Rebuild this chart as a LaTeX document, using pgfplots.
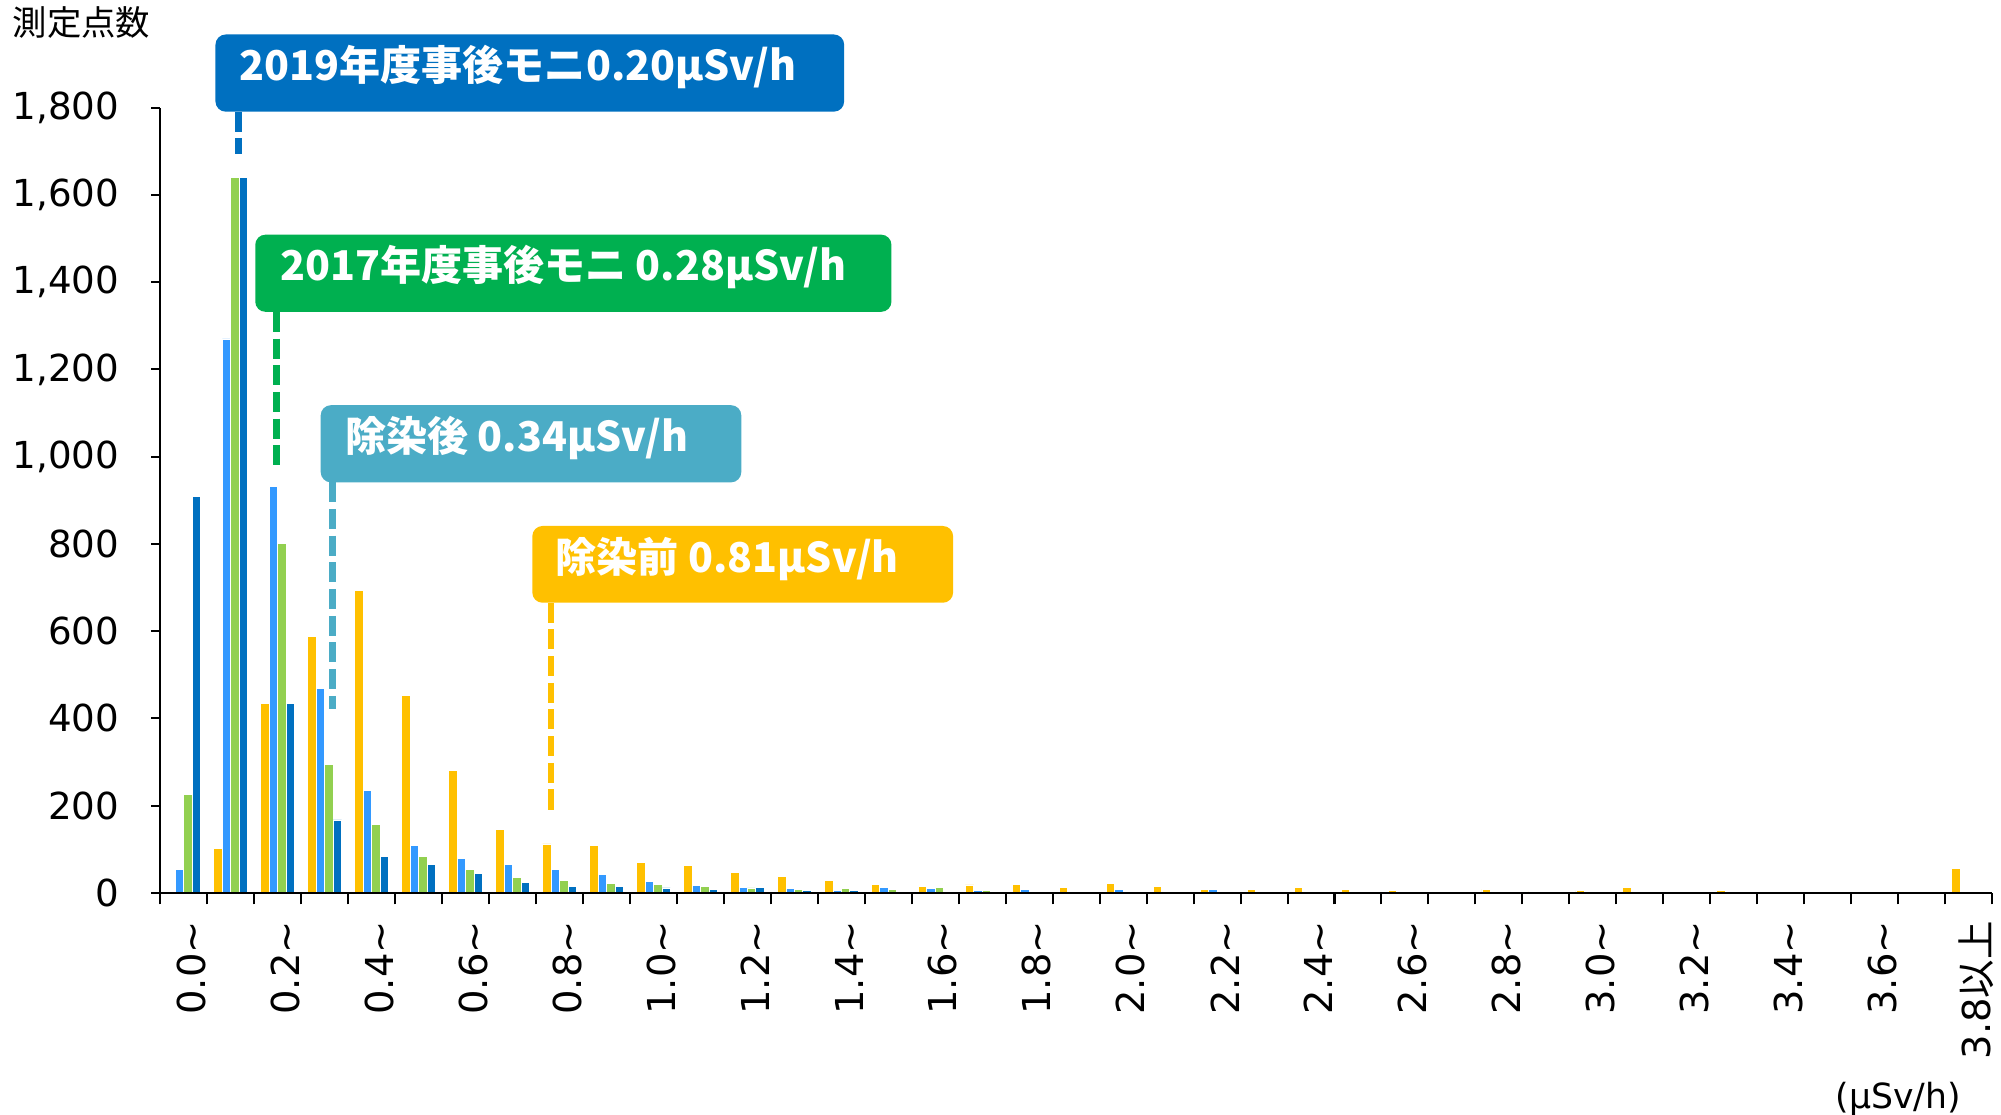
\documentclass[border=0pt]{standalone}
\usepackage{fontspec}
\setmainfont{DejaVu Sans}
\newfontfamily\jp{Noto Sans CJK JP}
\usepackage{pgfplots}
\pgfplotsset{compat=1.18}
\usepackage{pgfplotstable}

\definecolor{cPre}{HTML}{FFC000}
\definecolor{cPost}{HTML}{3399FF}
\definecolor{cSeven}{HTML}{92D050}
\definecolor{cNine}{HTML}{0070C0}
\definecolor{bSeven}{HTML}{00B050}
\definecolor{bPost}{HTML}{4BACC6}

% bins of 0.1 uSv/h: index 0 = 0.0~, ..., 37 = 3.7~, 38 = 3.8 and above
\pgfplotstableread{
x pre post m17 m19
0 0 54 226 908
1 102 1270 1641 1641
2 435 932 800 434
3 587 468 294 167
4 694 235 156 84
5 453 108 84 65
6 280 78 54 45
7 146 65 35 23
8 112 53 28 15
9 108 43 21 15
10 70 26 19 11
11 62 17 15 7
12 47 12 11 12
13 37 9 8 6
14 29 6 10 6
15 20 12 8 4
16 15 10 13 4
17 18 6 6 1.5
18 20 8 4 0
19 13 0 3 0
20 21 7 0 0
21 15 0 0 1.5
22 8 8 3 0
23 8 4 0 4
24 13 4 0 0
25 8 0 0 0
26 6 0 0 0
27 2 3 0 0
28 8 0 0 0
29 3 0 0 0
30 5 0 0 0
31 12 3 0 0
32 3 0 0 0
33 6 0 0 0
34 3 2 0 0
35 3 0 0 0
36 3 0 0 0
37 3 0 0 0
38 56 0 0 0
}\data

\newcommand{\xl}[1]{#1\textasciitilde}
\newcommand{\boxfont}{\jp\bfseries\fontsize{16}{19}\selectfont}

\begin{document}
\begin{tikzpicture}
\useasboundingbox (-62.5pt,-86.25pt) rectangle (717.5pt,348pt);
\begin{axis}[
    scale only axis,
    width=714pt, height=306pt,
    xmin=-0.5, xmax=38.5,
    ymin=0, ymax=1800,
    clip=false,
    axis on top,
    ybar=0pt, bar width=0.18,
    axis x line=bottom, axis y line=left,
    axis line style={-, black, line width=0.8pt},
    ytick={0,200,...,1800},
    xtick={0,2,...,38},
    xticklabels={\xl{0.0},\xl{0.2},\xl{0.4},\xl{0.6},\xl{0.8},\xl{1.0},\xl{1.2},
        \xl{1.4},\xl{1.6},\xl{1.8},\xl{2.0},\xl{2.2},\xl{2.4},\xl{2.6},\xl{2.8},
        \xl{3.0},\xl{3.2},\xl{3.4},\xl{3.6},{3.8{\jp 以上}}},
    minor xtick={-0.5,0.5,...,38.5},
    tick align=outside,
    major tick length=3.5pt, minor tick length=4.5pt,
    tick style={black, line width=0.8pt},
    major x tick style={draw=none},
    xticklabel style={rotate=90, anchor=east, xshift=-4pt, yshift=-3pt, font=\fontsize{15}{18}\selectfont},
    yticklabel style={xshift=-9pt, font=\fontsize{14.5}{17}\selectfont},
    /pgf/number format/.cd, 1000 sep={,}, assume math mode=true,
]
\addplot[fill=cPre, draw=white, line width=0.3pt] table[x=x, y=pre]{\data};
\addplot[fill=cPost, draw=white, line width=0.3pt] table[x=x, y=post]{\data};
\addplot[fill=cSeven, draw=white, line width=0.3pt] table[x=x, y=m17]{\data};
\addplot[fill=cNine, draw=white, line width=0.3pt] table[x=x, y=m19]{\data};

% average value callouts
\draw[cNine, line width=2.6pt, dash pattern=on 7.8pt off 2.6pt] (axis cs:1.17,1791) -- (axis cs:1.17,1695);
\fill[cNine, rounded corners=4pt] (axis cs:0.674,1791) rectangle (axis cs:14.06,1968);
\node[anchor=base west, inner sep=0, text=white, font=\boxfont] at (axis cs:1.18,1862) {2019年度事後モニ0.20μSv/h};

\draw[bSeven, line width=2.6pt, dash pattern=on 7.8pt off 2.6pt] (axis cs:1.98,1332) -- (axis cs:1.98,965);
\fill[bSeven, rounded corners=4pt] (axis cs:1.521,1332) rectangle (axis cs:15.067,1509);
\node[anchor=base west, inner sep=0, text=white, font=\boxfont] at (axis cs:2.04,1403) {2017年度事後モニ 0.28μSv/h};

\draw[bPost, line width=2.6pt, dash pattern=on 7.8pt off 2.6pt] (axis cs:3.165,941) -- (axis cs:3.165,422);
\fill[bPost, rounded corners=4pt] (axis cs:2.914,941) rectangle (axis cs:11.87,1118);
\node[anchor=base west, inner sep=0, text=white, font=\boxfont] at (axis cs:3.43,1012) {除染後 0.34μSv/h};

\draw[cPre, line width=2.6pt, dash pattern=on 7.8pt off 2.6pt] (axis cs:7.82,665) -- (axis cs:7.82,185);
\fill[cPre, rounded corners=4pt] (axis cs:7.42,665) rectangle (axis cs:16.38,841);
\node[anchor=base west, inner sep=0, text=white, font=\boxfont] at (axis cs:7.91,735) {除染前 0.81μSv/h};
\end{axis}
\node[font=\jp\fontsize{13.4}{16}\selectfont] at (-30.75pt,339.25pt) {測定点数};
\node[font=\fontsize{13.5}{16}\selectfont] at (677.5pt,-80.5pt) {(μSv/h)};
\end{tikzpicture}
\end{document}
